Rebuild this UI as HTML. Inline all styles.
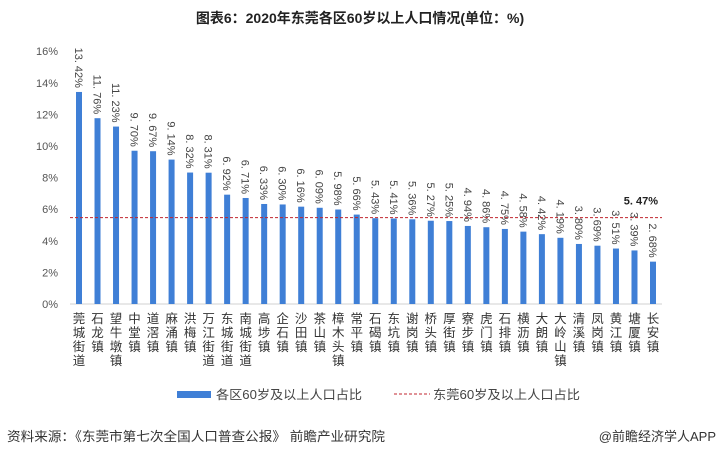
<!DOCTYPE html>
<html><head><meta charset="utf-8"><style>
body{margin:0;width:719px;height:448px;background:#fff;overflow:hidden;font-family:"Liberation Sans","Noto Sans CJK SC",sans-serif}
</style></head><body>
<svg id="chart" width="719" height="448" xmlns="http://www.w3.org/2000/svg" font-family="Liberation Sans, Noto Sans CJK SC, sans-serif">
<text x="360" y="23" text-anchor="middle" font-size="14" font-weight="bold" fill="#222">图表6：2020年东莞各区60岁以上人口情况(单位：%)</text>
<g id="yaxis"></g>
<g id="bars"></g>
<g id="labels"></g>
<g id="cats"></g>
<g id="ref"></g>
<g>
<rect x="177" y="391" width="34" height="7" fill="#3f7fd6"/>
<text x="216" y="399" font-size="12.5" fill="#444" textLength="146" lengthAdjust="spacingAndGlyphs">各区60岁及以上人口占比</text>
<line x1="394" y1="394" x2="430" y2="394" stroke="#c0252f" stroke-width="1" stroke-dasharray="3,2"/>
<text x="433" y="399" font-size="12.5" fill="#444" textLength="147" lengthAdjust="spacingAndGlyphs">东莞60岁及以上人口占比</text>
</g>
<text x="7" y="441" font-size="13" fill="#333" textLength="378" lengthAdjust="spacingAndGlyphs">资料来源：《东莞市第七次全国人口普查公报》 前瞻产业研究院</text>
<text x="716" y="441" text-anchor="end" font-size="13" fill="#333">@前瞻经济学人APP</text>
</svg>
<script>
const categories=["莞城街道","石龙镇","望牛墩镇","中堂镇","道滘镇","麻涌镇","洪梅镇","万江街道","东城街道","南城街道","高埗镇","企石镇","沙田镇","茶山镇","樟木头镇","常平镇","石碣镇","东坑镇","谢岗镇","桥头镇","厚街镇","寮步镇","虎门镇","石排镇","横沥镇","大朗镇","大岭山镇","清溪镇","凤岗镇","黄江镇","塘厦镇","长安镇"];
const values=[13.42,11.76,11.23,9.70,9.67,9.14,8.32,8.31,6.92,6.71,6.33,6.30,6.16,6.09,5.98,5.66,5.43,5.41,5.36,5.27,5.25,4.94,4.86,4.75,4.58,4.42,4.19,3.80,3.69,3.51,3.39,2.68];
const refValue=[5.47];
const yTicks=[0,2,4,6,8,10,12,14,16];
const NS="http://www.w3.org/2000/svg";
const y0=304,pxPer=15.8,x0=79,step=(653-79)/(categories.length-1);
const Y=v=>y0-v*pxPer, X=i=>x0+i*step;
function mk(t,a,p){const e=document.createElementNS(NS,t);for(const k in a)e.setAttribute(k,a[k]);p.appendChild(e);return e;}
const ya=document.getElementById('yaxis');
yTicks.forEach(t=>{const e=mk('text',{x:58,y:Y(t)+4,'text-anchor':'end','font-size':11,fill:'#555'},ya);e.textContent=t+'%';

});
const ax=mk('line',{x1:70,y1:y0,x2:662,y2:y0,stroke:'#d0d0d0'},ya);


const bg=document.getElementById('bars'),lg=document.getElementById('labels'),cg=document.getElementById('cats');
values.forEach((v,i)=>{
const r=mk('rect',{x:X(i)-3,y:Y(v),width:6,height:v*pxPer,fill:'#3f7fd6'},bg);


const yt=Y(v)-4;
const t=mk('text',{x:X(i)-4,y:yt,transform:`rotate(90 ${X(i)-4} ${yt})`,'text-anchor':'end','font-size':11,fill:'#444'},lg);
t.textContent=v.toFixed(2).replace('.','. ')+'%';


[...categories[i]].forEach((c,j)=>{const ct=mk('text',{x:X(i),y:323+j*14,'text-anchor':'middle','font-size':12.5,fill:'#333'},cg);ct.textContent=c;

});
});
const rg=document.getElementById('ref');
const rl=mk('line',{x1:70,y1:Y(refValue[0]),x2:662,y2:Y(refValue[0]),stroke:'#c0252f','stroke-dasharray':'3,2'},rg);


const rt=mk('text',{x:658,y:Y(refValue[0])-13,'text-anchor':'end','font-size':11,'font-weight':'bold',fill:'#222'},rg);
rt.textContent=refValue[0].toFixed(2).replace('.','. ')+'%';


</script>
</body></html>
